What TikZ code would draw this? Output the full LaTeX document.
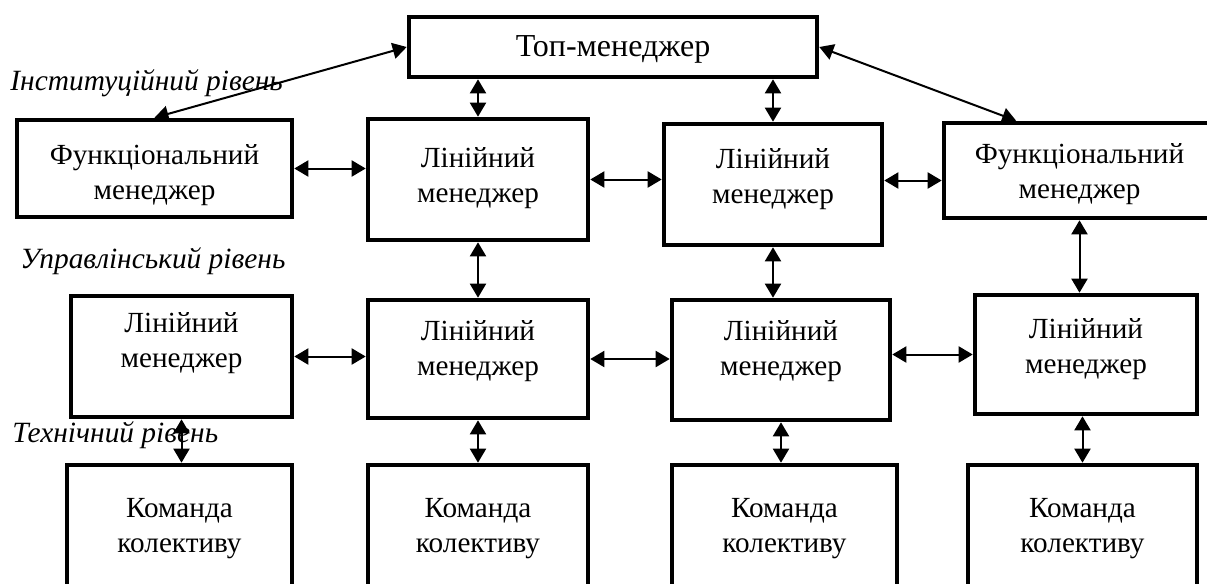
\documentclass[tikz,border=0pt]{standalone}
\usepackage{fontspec}
\setmainfont{Liberation Serif}
\usetikzlibrary{arrows.meta,calc}

\tikzset{
  box/.style={draw, line width=2.3pt, align=center, inner sep=0pt,
    font=\fontsize{14.6}{17.5}\selectfont},
  lift/.style={text height=28pt-#1, text depth=3.2pt+#1},
  level/.style={anchor=base west, inner sep=0pt,
    font=\fontsize{14.7}{17.5}\selectfont\itshape},
  link/.style={<->, line width=1pt},
}

\begin{document}
\begin{tikzpicture}[x=0.5pt, y=-0.5pt, >={Triangle[length=7pt,width=8pt]}]
\useasboundingbox (0,0) rectangle (1207,584);

\node[level] (inst) at (10,90) {Інституційний рівень};
\node[level] (upr) at (20,268) {Управлінський рівень};
\node[level] (tech) at (12,442) {Технічний рівень};

\node[box, font=\fontsize{16}{18}\selectfont, text height=11pt, text depth=1.5pt, minimum width=204pt, minimum height=30pt] (top) at (613,47) {Топ-менеджер};

\node[box, lift=-3.25pt, minimum width=137.5pt, minimum height=48.5pt] (fl) at (154.5,168.5) {Функціональний\\менеджер};
\node[box, lift=0.75pt, minimum width=110pt, minimum height=60.5pt] (l1) at (478,179.5) {Лінійний\\менеджер};
\node[box, lift=3pt, minimum width=109pt, minimum height=60.5pt] (l2) at (773,184.5) {Лінійний\\менеджер};
\node[box, lift=-1.75pt, minimum width=135.5pt, minimum height=47.5pt] (fr) at (1079.5,170.5) {Функціональний\\менеджер};

\node[box, lift=6.75pt, minimum width=110.5pt, minimum height=60.5pt] (m1) at (181.5,356.5) {Лінійний\\менеджер};
\node[box, lift=4pt, minimum width=110pt, minimum height=59pt] (m2) at (478,359) {Лінійний\\менеджер};
\node[box, lift=4.5pt, minimum width=109pt, minimum height=60pt] (m3) at (781,360) {Лінійний\\менеджер};
\node[box, lift=2.75pt, minimum width=111pt, minimum height=59.5pt] (m4) at (1086,354.5) {Лінійний\\менеджер};

\node[box, lift=2.25pt, minimum width=112.5pt, minimum height=67.5pt] (k1) at (179.5,532.5) {Команда\\колективу};
\node[box, lift=2.25pt, minimum width=110pt, minimum height=67.5pt] (k2) at (478,532.5) {Команда\\колективу};
\node[box, lift=2.25pt, minimum width=112.5pt, minimum height=67.5pt] (k3) at (784.5,532.5) {Команда\\колективу};
\node[box, lift=2.25pt, minimum width=114.5pt, minimum height=67.5pt] (k4) at (1082.5,532.5) {Команда\\колективу};

\coordinate (frtip) at ($(fr.north west)!0.27!(fr.north east)$);
\coordinate (l2out) at ([yshift=2pt]l2.east);

\path[link]
(top.west) edge (fl.north)
(top.east) edge (frtip)
(l1.north |- top.south) edge (l1.north)
(l2.north |- top.south) edge (l2.north)
(fl.east) edge (fl.east -| l1.west)
(l1.east) edge (l1.east -| l2.west)
(l2out) edge (l2out -| fr.west)
(l1.south) edge (l1.south |- m2.north)
(l2.south) edge (l2.south |- m3.north)
(fr.south) edge (fr.south |- m4.north)
(m1.east) edge (m1.east -| m2.west)
(m2.east) edge (m2.east -| m3.west)
(m4.west -| m3.east) edge (m4.west)
(m1.south) edge (m1.south |- k1.north)
(m2.south) edge (m2.south |- k2.north)
(m3.south) edge (m3.south |- k3.north)
(k4.north |- m4.south) edge (k4.north);
\end{tikzpicture}
\end{document}
